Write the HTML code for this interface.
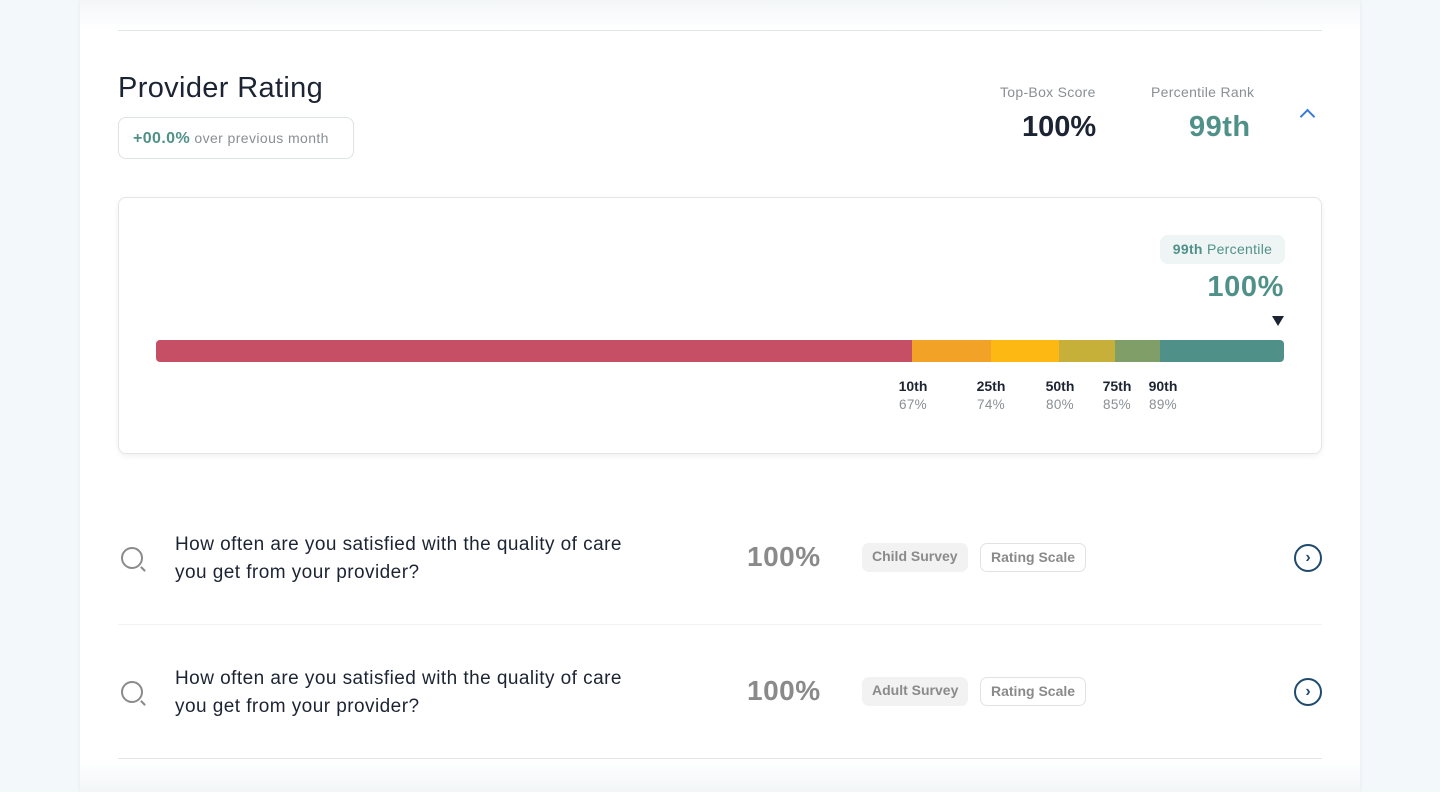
<!DOCTYPE html>
<html><head><meta charset="utf-8"><style>
*{margin:0;padding:0;box-sizing:border-box}
body{width:1440px;height:792px;background:#f3f8fb;font-family:"Liberation Sans",sans-serif;position:relative;overflow:hidden;color:#1c2434}
.card{position:absolute;left:80px;top:0;width:1280px;height:792px;background:#fff;box-shadow:0 0 4px rgba(0,0,0,.06)}
.fadeT{position:absolute;left:80px;top:0;width:1280px;height:30px;background:linear-gradient(#f3f6f8,#fff)}
.fadeB{position:absolute;left:80px;top:760px;width:1280px;height:32px;background:linear-gradient(#fff,#f3f6f8)}
.a{position:absolute}
.hl{position:absolute;left:118px;width:1204px;height:1px;background:#e3e6e8}
.seg{position:absolute;top:340px;height:22px}
.lab{position:absolute;top:378px;width:60px;text-align:center;font-size:14px}
.lab b{display:block;color:#1c2434}
.lab span{display:block;color:#8a8f94;margin-top:3px;font-size:13.5px;letter-spacing:.3px}
.q{position:absolute;left:175px;font-size:19px;line-height:28px;color:#1c2434;letter-spacing:.45px}
.pct{position:absolute;left:747px;font-size:28px;font-weight:bold;color:#8a8a8a;letter-spacing:.5px}
.tag{position:absolute;height:29px;border-radius:7px;font-size:14px;font-weight:bold;color:#8a8a8a;line-height:27px;padding:0 10px}
.circ{position:absolute;left:1294px;width:28px;height:28px;border:2px solid #1f4a6e;border-radius:50%;color:#1f4a6e;font-size:16px;text-align:center;line-height:23px;font-weight:bold}
.mag{position:absolute;left:121px;width:22px;height:22px;border:2px solid #8a8a8a;border-radius:50%}
.mag:after{content:"";position:absolute;right:-5px;bottom:-3px;width:6px;height:2px;background:#8a8a8a;transform:rotate(45deg)}
</style></head><body>
<div class="card"></div><div class="fadeT"></div><div class="fadeB"></div>
<div class="hl" style="top:30px"></div>
<div class="a" style="left:118px;top:72px;font-size:29px;letter-spacing:.35px">Provider Rating</div>
<div class="a" style="left:118px;top:117px;width:236px;height:42px;border:1px solid #dde2e5;border-radius:8px;font-size:14px;line-height:40px;padding-left:14px;color:#8a8f94;letter-spacing:.4px"><b style="color:#4f9188;font-size:16px">+00.0%</b> over previous month</div>
<div class="a" style="left:1000px;top:84px;font-size:14px;color:#8a8f94;letter-spacing:.3px">Top-Box Score</div>
<div class="a" style="left:1022px;top:111px;font-size:29px;font-weight:bold">100%</div>
<div class="a" style="left:1151px;top:84px;font-size:14px;color:#8a8f94;letter-spacing:.3px">Percentile Rank</div>
<div class="a" style="left:1189px;top:111px;font-size:29px;font-weight:bold;color:#4f9188;letter-spacing:.5px">99th</div>
<div class="a" style="left:1302px;top:111px;width:11px;height:11px;border-left:2px solid #3a7bd5;border-top:2px solid #3a7bd5;transform:rotate(45deg)"></div>
<div class="a" style="left:118px;top:197px;width:1204px;height:257px;border:1px solid #e3e6e8;border-radius:8px;box-shadow:0 2px 6px rgba(0,0,0,.06)"></div>
<div class="a" style="left:1160px;top:235px;width:125px;height:29px;background:#eff5f4;border-radius:8px;font-size:14px;line-height:29px;text-align:center;color:#4f9188;letter-spacing:.3px"><b>99th</b> Percentile</div>
<div class="a" style="left:1170px;top:271px;width:114px;text-align:right;font-size:29px;font-weight:bold;color:#4f9188;letter-spacing:.6px">100%</div>
<div class="a" style="left:1272px;top:316px;width:0;height:0;border-left:6px solid transparent;border-right:6px solid transparent;border-top:10px solid #1c2434"></div>
<div class="seg" style="left:156px;width:756px;background:#c64f66;border-radius:4px 0 0 4px"></div>
<div class="seg" style="left:912px;width:79px;background:#f2a227"></div>
<div class="seg" style="left:991px;width:68px;background:#fdb813"></div>
<div class="seg" style="left:1059px;width:56px;background:#c7b03a"></div>
<div class="seg" style="left:1115px;width:45px;background:#7f9e68"></div>
<div class="seg" style="left:1160px;width:124px;background:#4f9188;border-radius:0 4px 4px 0"></div>
<div class="lab" style="left:883px"><b>10th</b><span>67%</span></div>
<div class="lab" style="left:961px"><b>25th</b><span>74%</span></div>
<div class="lab" style="left:1030px"><b>50th</b><span>80%</span></div>
<div class="lab" style="left:1087px"><b>75th</b><span>85%</span></div>
<div class="lab" style="left:1133px"><b>90th</b><span>89%</span></div>

<div class="mag" style="top:547px"></div>
<div class="q" style="top:531px">How often are you satisfied with the quality of care<br>you get from your provider?</div>
<div class="pct" style="top:541px">100%</div>
<div class="tag" style="left:862px;top:543px;background:#f2f2f2">Child Survey</div>
<div class="tag" style="left:980px;top:543px;border:1px solid #e0e3e5">Rating Scale</div>
<div class="circ" style="top:544px">›</div>
<div class="hl" style="top:624px;background:#f0f2f3"></div>

<div class="mag" style="top:681px"></div>
<div class="q" style="top:665px">How often are you satisfied with the quality of care<br>you get from your provider?</div>
<div class="pct" style="top:675px">100%</div>
<div class="tag" style="left:862px;top:677px;background:#f2f2f2">Adult Survey</div>
<div class="tag" style="left:980px;top:677px;border:1px solid #e0e3e5">Rating Scale</div>
<div class="circ" style="top:678px">›</div>
<div class="hl" style="top:758px"></div>
</body></html>
